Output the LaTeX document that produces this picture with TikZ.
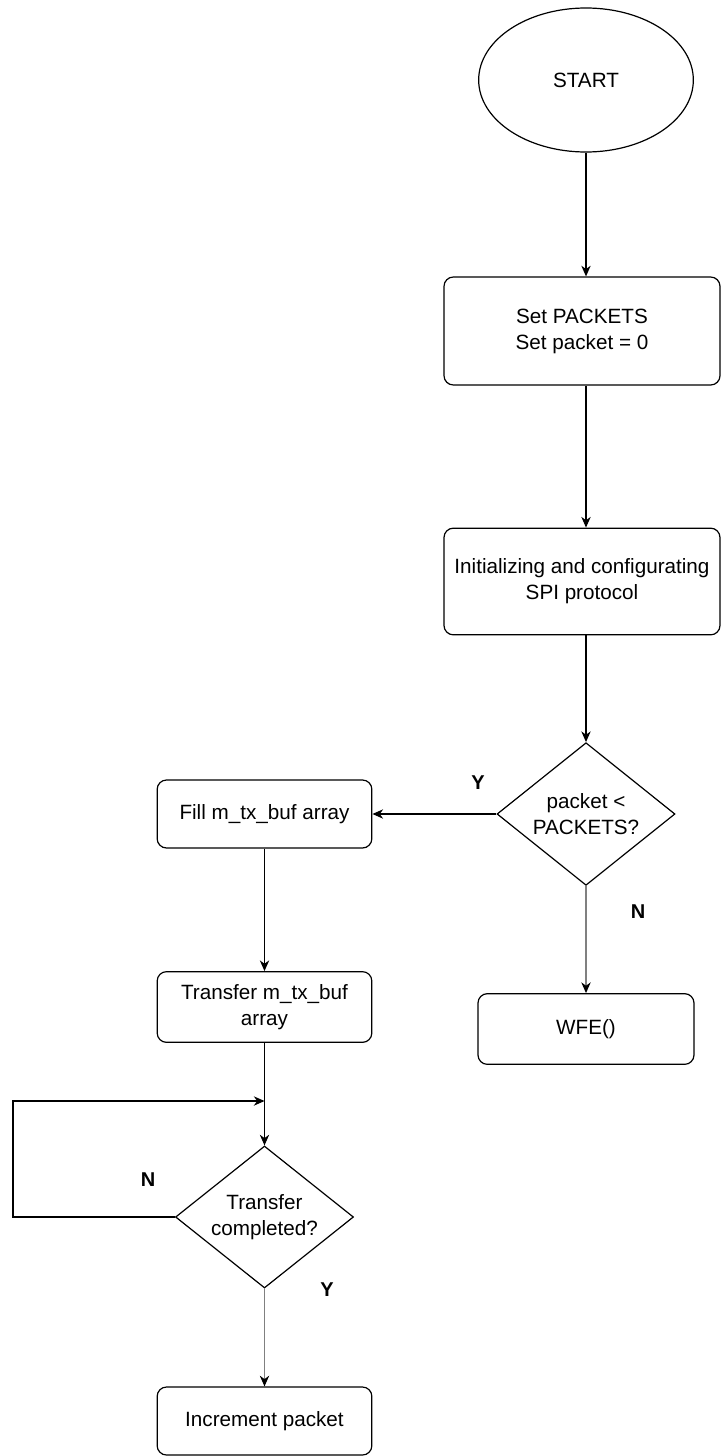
\documentclass[tikz,border=0pt]{standalone}
\usepackage{fontspec}
\setmainfont{Liberation Sans}
\usetikzlibrary{shapes.geometric,arrows.meta}
\begin{document}
\begin{tikzpicture}[
    x=0.75pt, y=-0.75pt,
    every node/.style={font=\fontsize{15.5}{19.5}\selectfont},
    proc/.style={draw, rounded corners=7pt, align=center, line width=0.9pt,
      inner sep=2pt},
    term/.style={draw, ellipse, line width=0.9pt, minimum width=161pt,
      minimum height=108pt},
    dec/.style={draw, diamond, aspect=1.3, align=center, line width=0.9pt,
      inner sep=0pt, minimum width=133.5pt, minimum height=107pt},
    arr/.style={-{Stealth[length=8pt, width=7pt, inset=2.5pt]}, line width=0.9pt},
    garr/.style={-{Stealth[length=8pt, width=7pt, inset=2.5pt, color=black]},
      line width=1pt, draw=gray},
    lbl/.style={font=\fontsize{15}{18}\selectfont\bfseries},
  ]
    \useasboundingbox (0,0) rectangle (721,1456);
    \def\rx{586}    % right column
    \def\lx{264.5}  % left column

    % Right column
    \node[term] (start) at (\rx, 80) {START};
    \node[proc, minimum width=207pt, minimum height=81pt] (setpk) at (582, 331)
      {Set PACKETS\\Set packet = 0};
    \node[proc, minimum width=207pt, minimum height=80pt] (initspi) at (582, 581.5)
      {Initializing and configurating\\SPI protocol};
    \node[dec] (chkpk) at (\rx, 814) {packet <\\PACKETS?};
    \node[proc, minimum width=162pt, minimum height=53pt] (wfe) at (\rx, 1029) {WFE()};

    \draw[arr] (start.south) -- (start.south |- setpk.north);
    \draw[arr] (setpk.south -| start) -- (initspi.north -| start);
    \draw[arr] (initspi.south -| start) -- (chkpk.north);
    \draw[garr] (chkpk.south) -- (wfe.north);
    \node[lbl] (yes1) at (478, 783) {Y};
    \node[lbl] (no1) at (638, 912) {N};

    % Left column
    \node[proc, minimum width=161pt, minimum height=51pt] (fill) at (\lx, 814)
      {Fill m\_tx\_buf array};
    \node[proc, minimum width=161pt, minimum height=53pt] (xfer) at (\lx, 1007)
      {Transfer m\_tx\_buf\\array};
    \node[dec, minimum height=106.5pt] (tcomp) at (\lx, 1217) {Transfer\\completed?};
    \node[proc, minimum width=161pt, minimum height=51pt] (incr) at (\lx, 1421)
      {Increment packet};

    \draw[arr] (chkpk.west) -- (fill.east);
    \draw[arr] (fill.south) -- (xfer.north);
    \draw[arr] (xfer.south) -- (tcomp.north);
    \draw[garr] (tcomp.south) -- (incr.north);

    % Wait loop
    \coordinate (loopL) at (13, 1217);
    \coordinate (merge) at (\lx, 1101);
    \draw[arr] (tcomp.west) -- (loopL) |- (merge);
    \node[lbl] (no2) at (148, 1180) {N};
    \node[lbl] (yes2) at (327, 1290) {Y};
\end{tikzpicture}
\end{document}
